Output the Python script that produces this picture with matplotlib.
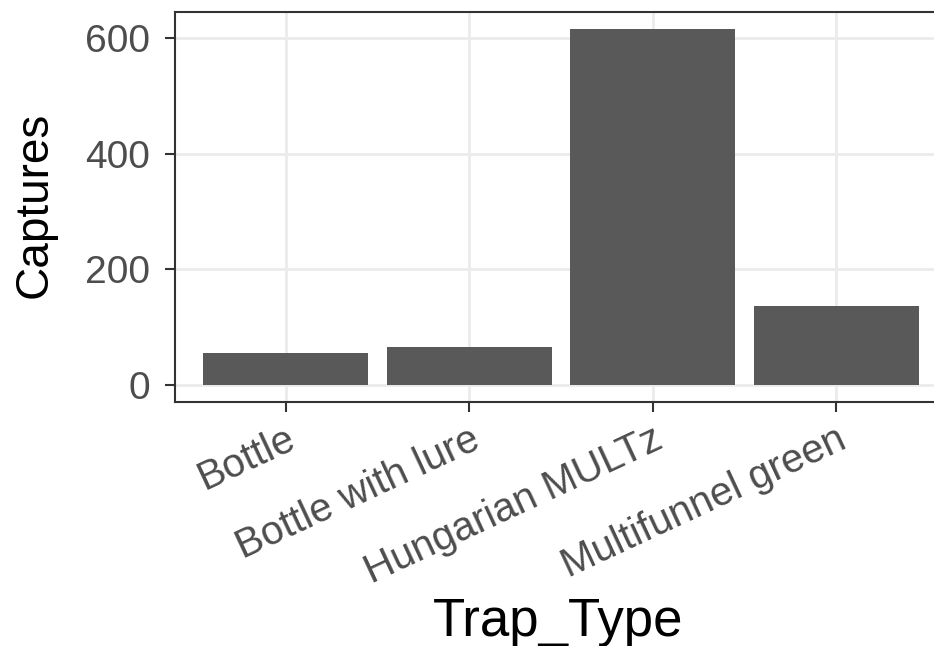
import matplotlib
matplotlib.use("Agg")
from matplotlib import pyplot as plt

# trap catches
trap_types = ["Bottle", "Bottle with lure", "Hungarian MULTz", "Multifunnel green"]
captures = [56, 66, 615, 136]
yticks = [0, 200, 400, 600]

plt.rcParams['font.family'] = ['Liberation Sans', 'DejaVu Sans']

fig = plt.figure(figsize=(9.34, 6.46), dpi=100)
ax = fig.add_axes([0.1879, 0.377, 0.8253, 0.605])

xpos = list(range(len(trap_types)))
ax.bar(xpos, captures, width=0.9, color="#595959", zorder=2)

ax.set_xlim(-0.6, len(trap_types) - 0.4)
ax.set_ylim(-30, 645.5)

ax.set_xticks(xpos)
ax.set_xticklabels(trap_types, rotation=25, ha="right", va="top",
                   rotation_mode="anchor", fontsize=29, color="#4D4D4D")
ax.set_yticks(yticks)
ax.set_yticklabels([str(v) for v in yticks], fontsize=28, color="#4D4D4D")

ax.tick_params(axis="both", length=7.5, width=1.5, color="#333333")
ax.tick_params(axis="y", pad=11)
ax.tick_params(axis="x", pad=5)

ax.grid(True, color="#EBEBEB", lw=2, zorder=0)
ax.set_axisbelow(True)
for s in ax.spines.values():
    s.set_color("#333333")
    s.set_linewidth(1.5)

ax.set_xlabel("Trap_Type", fontsize=38, color="black", va="center")
ax.xaxis.set_label_coords(0.497, -0.563)
ax.set_ylabel("Captures", fontsize=33, color="black", va="center")
ax.yaxis.set_label_coords(-0.183, 0.505)

fig.savefig("out.png", dpi=100)
